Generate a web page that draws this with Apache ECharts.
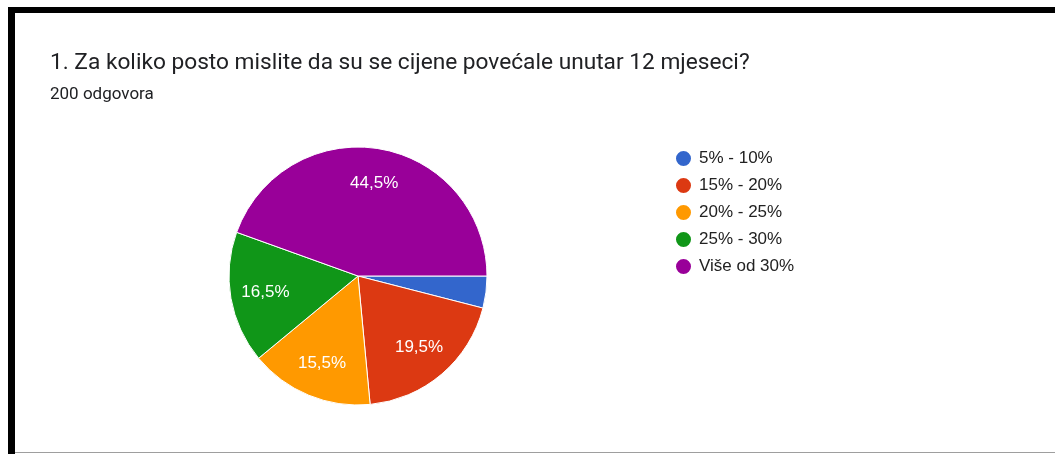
<!DOCTYPE html>
<html>
<head>
<meta charset="utf-8">
<script src="https://cdn.jsdelivr.net/npm/echarts@6/dist/echarts.min.js"></script>
<style>
  html, body { margin: 0; padding: 0; background: #fff; }
  #main { width: 1055px; height: 454px; }
</style>
</head>
<body>
<div id="main"></div>
<script>
const questionTitle = '1. Za koliko posto mislite da su se cijene povećale unutar 12 mjeseci?'
const answerCount = '200 odgovora'
const categories = ['5% - 10%', '15% - 20%', '20% - 25%', '25% - 30%', 'Više od 30%']
const shares = [4.0, 19.5, 15.5, 16.5, 44.5]
const sliceColors = ['#3366cc', '#dc3912', '#ff9900', '#109618', '#990099']

const pieData = categories.map((name, i) => ({
  name: name,
  value: shares[i],
  itemStyle: {color: sliceColors[i]}
}))

// ring only used to push labels out to ~70% of the radius
const labelData = categories.map((name, i) => ({
  name: name,
  value: shares[i],
  label: {show: shares[i] >= 5}
}))

const chart = echarts.init(document.getElementById('main'))
chart.setOption({
  animation: false,
  title: {
    text: questionTitle,
    subtext: answerCount,
    left: 45,
    top: 47,
    itemGap: 11,
    textStyle: {
      fontFamily: 'Roboto',
      fontSize: 22.7,
      fontWeight: 'normal',
      color: '#202124'
    },
    subtextStyle: {
      fontFamily: 'Roboto',
      fontSize: 17,
      color: '#202124'
    }
  },
  legend: {
    orient: 'vertical',
    left: 669,
    top: 144,
    icon: 'circle',
    itemWidth: 17,
    itemHeight: 17,
    itemGap: 8,
    data: categories,
    textStyle: {
      fontFamily: 'Arial',
      fontSize: 17,
      color: '#222222',
      padding: [0, 0, 0, 2]
    }
  },
  graphic: [
    {type: 'rect', shape: {x: 8, y: 7, width: 1047, height: 6}, style: {fill: '#000'}},
    {type: 'rect', shape: {x: 8, y: 7, width: 7, height: 447}, style: {fill: '#000'}},
    {type: 'rect', shape: {x: 15, y: 452, width: 1040, height: 1}, style: {fill: '#9e9e9e'}}
  ],
  series: [
    {
      name: 'odgovori',
      type: 'pie',
      center: [358, 276],
      radius: 129,
      startAngle: 0,
      clockwise: true,
      label: {show: false},
      labelLine: {show: false},
      itemStyle: {borderColor: '#fff', borderWidth: 1},
      emphasis: {disabled: true},
      data: pieData
    },
    {
      name: 'oznake',
      type: 'pie',
      center: [358, 276],
      radius: [53, 129],
      startAngle: 0,
      clockwise: true,
      silent: true,
      itemStyle: {color: 'rgba(0,0,0,0)'},
      label: {
        position: 'inside',
        formatter: p => String(p.value).includes('.') ? String(p.value).replace('.', ',') + '%' : p.value + ',0%',
        fontFamily: 'Arial',
        fontSize: 17,
        color: '#fff'
      },
      labelLine: {show: false},
      data: labelData
    }
  ]
})
</script>
</body>
</html>
